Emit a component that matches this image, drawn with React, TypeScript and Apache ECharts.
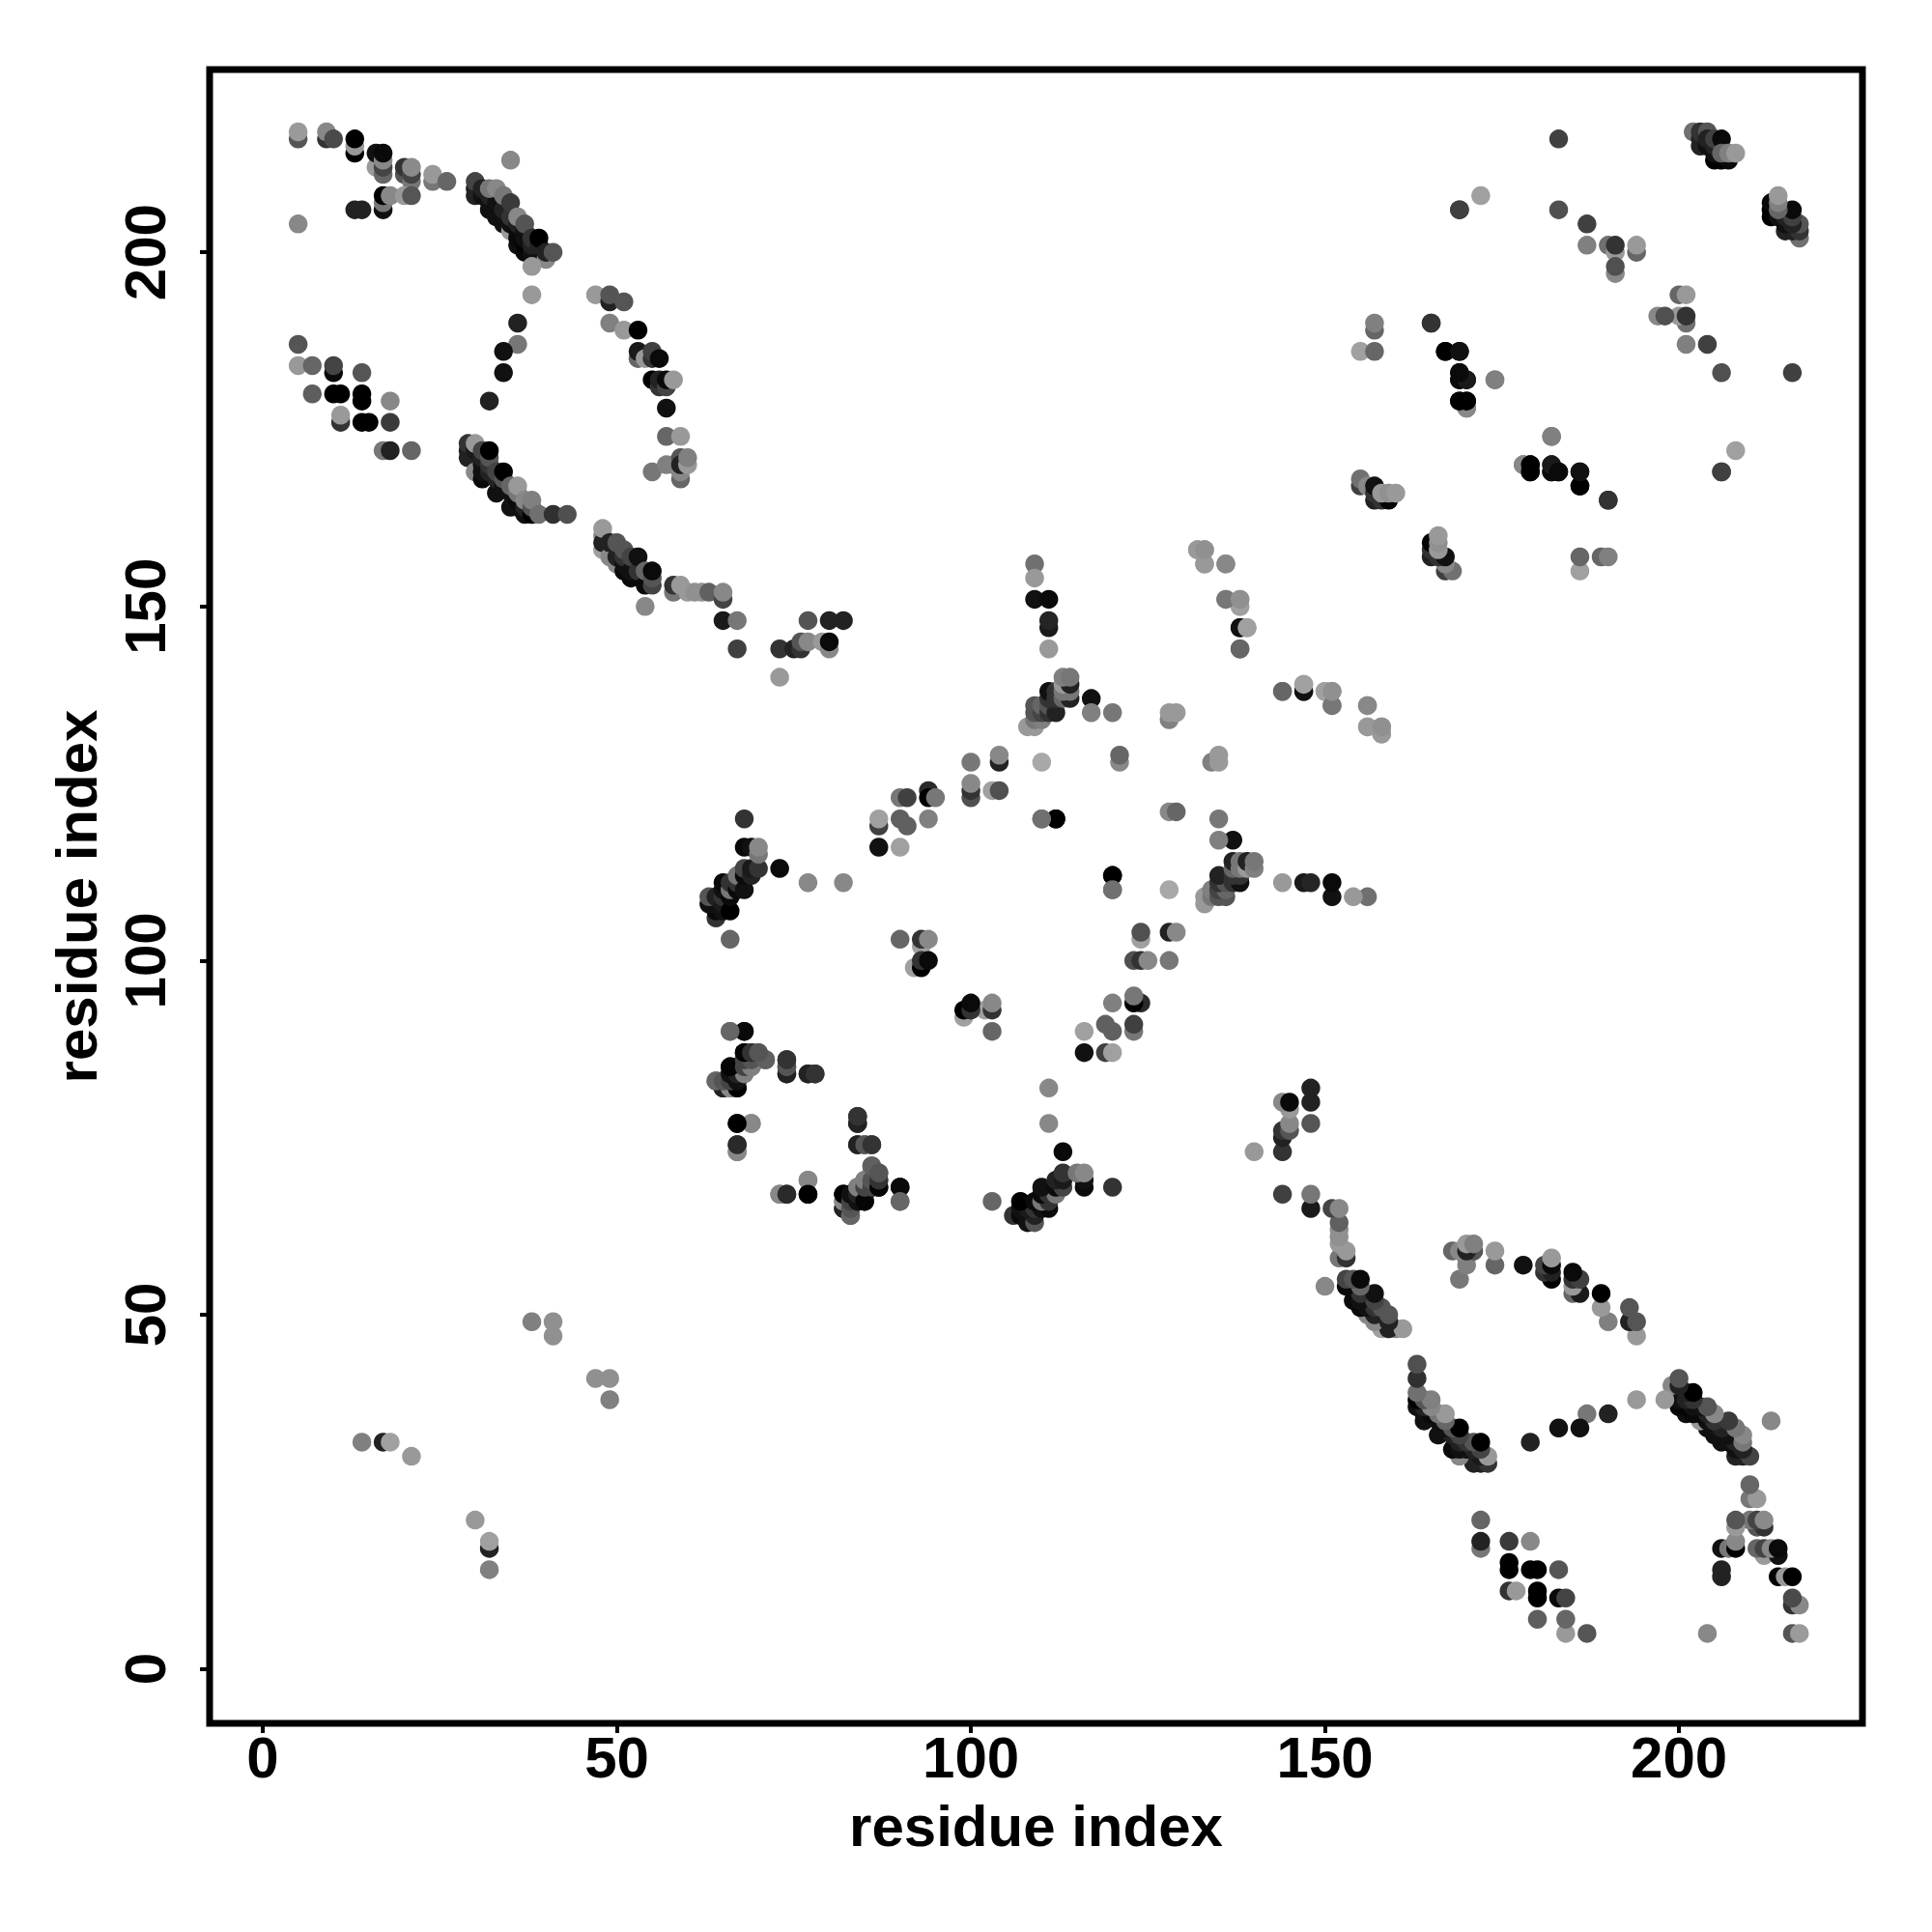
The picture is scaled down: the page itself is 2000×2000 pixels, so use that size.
import React, { useEffect, useRef } from "react";
import * as echarts from "echarts";

type Contact = [number, number, number];

// Contacts as [residue i, residue j, grey level]; the contact map is symmetric.
const tickValues = [0, 50, 100, 150, 200];
const axisTitle = "residue index";

const cornerTop: Contact[] = [
  [5,216,0x55],[5,217,0x9a],[5,204,0x88],[9,216,0x33],[9,217,0x88],[10,216,0x4a],[13,214,0x00],[13,215,0x99],[13,216,0x00],
  [16,212,0x9a],[16,214,0x11],[17,211,0x66],[17,212,0x44],[17,213,0x88],[17,214,0x0a],[20,211,0x55],[20,212,0x33],
  [21,210,0x77],[21,211,0x44],[21,212,0x8a],[24,210,0x77],[24,211,0x99],[26,210,0x66],[17,206,0x11],[17,207,0x77],[17,208,0x00],
  [18,208,0x88],[20,208,0x99],[21,208,0x55],[13,206,0x22],[14,206,0x22],[35,213,0x88],
];
const bandUpper: Contact[] = [
  [30,208,0x22],[30,209,0x22],[30,210,0x44],[31,208,0x11],[31,209,0x22],[32,206,0x11],[32,207,0x11],[32,208,0x22],
  [33,205,0x11],[33,206,0x11],[33,207,0x11],[34,204,0x11],[34,205,0x11],[34,206,0x22],[35,203,0x99],[35,204,0x11],
  [35,205,0x33],[36,201,0x11],[36,202,0x0a],[36,203,0x0a],[36,204,0x22],[37,200,0x0a],[37,201,0x05],[37,202,0x11],
  [37,203,0x11],[38,200,0x11],[38,201,0x22],[32,209,0x77],[33,209,0x88],[34,208,0x77],[35,207,0x3a],[36,205,0x88],
  [37,204,0x55],[38,202,0x33],[39,201,0x22],[39,202,0x00],[40,199,0x88],[38,198,0x99],[38,194,0x99],[40,200,0x22],[41,200,0x55],
];
const loopLeft: Contact[] = [
  [36,190,0x22],[36,187,0x77],[34,186,0x11],[34,183,0x11],[32,179,0x22],
];
const cornerLower: Contact[] = [
  [5,187,0x55],[5,184,0x99],[7,184,0x66],[10,183,0x0a],[10,184,0x44],[14,183,0x55],[7,180,0x5e],[10,180,0x00],[11,180,0x00],
  [14,179,0x00],[14,180,0x00],[18,179,0x88],[11,176,0x33],[11,177,0x99],[14,176,0x00],[15,176,0x00],[18,176,0x3a],
  [17,172,0x77],[18,172,0x22],[21,172,0x66],
];
const bandMiddle: Contact[] = [
  [29,171,0x22],[29,172,0x22],[29,173,0x33],[30,171,0x22],[30,172,0x1a],[30,169,0x88],[30,173,0x99],[31,168,0x0a],[31,169,0x11],
  [31,170,0x11],[31,171,0x22],[31,172,0x44],[32,169,0x22],[32,170,0x33],[32,171,0x55],[32,172,0x00],[33,166,0x11],
  [33,168,0x22],[33,169,0x44],[34,167,0x11],[34,168,0x55],[34,169,0x00],[35,164,0x11],[35,166,0x11],[35,167,0x66],
  [36,164,0x11],[36,165,0x0a],[36,166,0x77],[36,167,0x99],[37,163,0x11],[37,164,0x22],[37,165,0x88],[38,163,0x00],
  [38,164,0x55],[38,165,0x80],[39,163,0x70],[41,163,0x30],[43,163,0x50],
];
const bandLower: Contact[] = [
  [48,158,0xa0],[48,160,0x88],[48,159,0x22],[48,161,0x99],[49,157,0x88],[49,159,0x22],[50,156,0x88],[50,157,0x22],[50,159,0x55],
  [51,155,0x0a],[51,156,0x11],[51,157,0x33],[51,158,0x55],[52,154,0x0a],[52,155,0x11],[52,157,0x44],[53,155,0x33],
  [53,157,0x11],[54,153,0x0a],[54,155,0x66],[55,153,0x44],[55,154,0x55],[55,155,0x0a],[54,150,0x88],
  [58,152,0x77],[58,153,0x33],[59,153,0x99],[60,152,0x99],[61,152,0x90],[62,152,0x90],[63,152,0x60],[65,151,0x44],[65,152,0x88],
  [65,148,0x1a],[67,148,0x77],[67,144,0x40],
];
const arcOuter: Contact[] = [
  [47,194,0x99],[49,193,0x22],[49,194,0x55],[51,193,0x55],[49,190,0x80],[51,189,0x99],[53,189,0x00],[53,185,0x66],[53,186,0x1a],
  [54,185,0x99],[55,185,0x33],[55,186,0x40],[56,185,0x0a],[55,182,0x00],[56,181,0x33],[56,182,0x22],[57,181,0x44],[57,182,0x0a],
  [58,182,0x99],[57,178,0x11],[57,174,0x66],[59,174,0x99],[55,169,0x77],[57,170,0x80],[58,170,0x80],[59,168,0x66],[59,169,0x88],
  [59,171,0x55],[59,170,0x22],[60,170,0x99],[60,171,0x80],
];
const tailUpper: Contact[] = [
  [73,144,0x33],[73,140,0x99],[75,144,0x22],[76,144,0x33],[76,145,0x55],[77,148,0x55],[77,145,0x88],[79,145,0x99],[80,144,0x88],
  [80,145,0x0a],[80,148,0x22],[82,148,0x22],
];
const clusterA: Contact[] = [
  [68,120,0x33],[64,106,0x33],[64,107,0x0a],[64,108,0x11],[63,108,0x11],[63,109,0x55],[64,109,0x22],[65,107,0x11],[65,108,0x1a],
  [65,109,0x33],[65,110,0x11],[65,111,0x0a],[66,107,0x00],[66,109,0x0a],[66,110,0x77],[66,111,0x33],[67,110,0x0a],[67,111,0x33],
  [67,112,0x77],[68,110,0x11],[68,112,0x0a],[68,113,0x44],[69,112,0x22],[69,113,0x1a],[70,113,0x33],[68,116,0x0a],[69,116,0x11],
  [70,115,0x77],[70,116,0x88],[73,113,0x0a],[77,111,0x88],[82,111,0x88],[66,103,0x66],
];
const clusterB: Contact[] = [
  [87,116,0x11],[87,119,0x40],[87,120,0xa0],[90,120,0x60],[91,119,0x60],[94,120,0x80],[90,116,0xa0],[90,123,0x77],[91,123,0x40],
  [94,124,0x2a],[94,123,0x00],[95,123,0x77],[100,123,0x50],[100,124,0x33],[100,125,0x88],[103,124,0xa0],[104,124,0x50],
  [100,128,0x77],[104,128,0x22],[104,129,0x88],[110,120,0x77],[112,120,0x00],
];
const diagonalMiddle: Contact[] = [
  [90,103,0x66],[93,102,0xa0],[93,103,0x33],[94,103,0x88],[92,99,0xa0],[93,99,0x00],[93,100,0x33],[94,100,0x0a],
];
const clusterSpur: Contact[] = [
  [109,156,0x70],[109,154,0x99],[109,151,0x11],[111,151,0x0a],[111,147,0x1a],[111,148,0x25],[111,144,0x99],
  [132,158,0xa0],[133,156,0x99],[133,158,0x99],[136,156,0x99],[136,151,0x88],[138,150,0xa0],[138,151,0x99],[138,147,0x11],
  [139,147,0xa0],[138,144,0x66],[144,138,0x66],[147,138,0x11],[147,139,0xa0],[150,138,0xa0],[151,136,0x77],[151,138,0x90],
  [156,136,0x88],[156,133,0x99],[158,132,0x99],[158,133,0x90],
];
const clusterC: Contact[] = [
  [108,133,0x99],[109,133,0x99],[109,134,0x77],[110,134,0x80],[109,135,0x55],[109,136,0x55],[110,135,0x44],[110,136,0x66],
  [111,135,0x33],[111,136,0x55],[112,135,0x22],[111,137,0x33],[111,138,0x11],[112,137,0x33],[112,138,0x33],[113,137,0x66],
  [114,137,0x22],[113,138,0x77],[114,138,0x77],[113,139,0x99],[114,139,0x22],[113,140,0x80],[114,140,0x77],[117,137,0x11],
  [117,135,0x80],[120,135,0x77],[128,134,0x80],[128,135,0x99],[129,135,0x99],[110,128,0xa8],[121,128,0x88],[121,129,0x66],
  [120,112,0x00],[120,110,0x70],
];
const clusterD: Contact[] = [
  [66,90,0x77],[68,90,0x0a],[64,83,0x77],[65,82,0x1a],[65,83,0x44],[66,82,0x77],[66,83,0x44],[67,82,0x0a],[67,83,0x55],
  [66,84,0x33],[67,84,0x44],[68,84,0x99],[66,85,0x11],[67,85,0x22],[68,85,0x55],[69,85,0x88],[68,86,0x11],[69,86,0x70],
  [68,87,0x0a],[69,87,0x44],[70,86,0x80],[70,87,0x66],[71,86,0x60],[74,84,0x33],[74,85,0x55],[74,86,0x33],[77,84,0x33],[78,84,0x33],
  [67,77,0x00],[69,77,0x80],[67,73,0x77],[67,74,0x2a],[84,77,0x22],[84,78,0x33],[84,74,0x22],[85,74,0x55],[86,74,0x33],
  [77,69,0x88],[77,67,0x00],[73,67,0x88],[74,67,0x2a],
];
const clusterE: Contact[] = [
  [82,65,0x22],[82,66,0x88],[82,67,0x00],[83,64,0x66],[83,65,0x55],[83,66,0x44],[83,67,0x11],[84,66,0x11],[84,67,0x22],[84,68,0x80],
  [85,66,0x05],[85,68,0x44],[85,69,0x80],[86,68,0x44],[86,69,0x55],[87,68,0x05],[87,69,0x33],[86,71,0x60],[87,70,0x55],
  [90,68,0x0a],[90,66,0x66],
];
const clusterTopRight: Contact[] = [
  [183,216,0x40],[183,206,0x50],[187,204,0x40],[187,201,0x80],[190,201,0x70],[191,200,0x99],[191,201,0x33],[191,197,0x88],[191,198,0x50],
  [194,200,0x66],[194,201,0x99],[169,206,0x40],[172,208,0xa0],
  [202,217,0x70],[203,215,0x22],[203,216,0x22],[203,217,0x33],[204,217,0x55],[204,215,0x11],[204,216,0x22],[205,213,0x00],[206,213,0x00],[207,213,0x0a],
  [205,214,0x11],[205,215,0x22],[205,216,0x40],[206,216,0x0a],[206,214,0x66],[207,214,0x80],[208,214,0x99],
  [157,189,0x66],[157,190,0x80],[155,186,0xa0],[157,186,0x66],[165,190,0x38],[167,186,0x05],[169,186,0x1a],[169,182,0x05],[169,183,0x05],
  [170,182,0x1a],[174,182,0x80],[170,178,0x77],[169,179,0x05],[170,179,0x00],
  [155,167,0x40],[155,168,0x70],[156,167,0x88],[157,165,0x22],[158,165,0x33],[159,165,0x05],[157,166,0x33],[157,167,0x11],[158,166,0x99],[159,166,0x90],[160,166,0x99],
  [186,167,0x00],[186,169,0x11],[190,165,0x33],
];
const scatteredLow: Contact[] = [
  [14,32,0x80],[17,32,0x22],[18,32,0xa0],[21,30,0x99],[38,49,0x80],[41,49,0x90],[41,47,0x90],
];
const clusterMid: Contact[] = [
  [178,170,0x88],[179,169,0x00],[179,170,0x00],[182,169,0x0a],[182,170,0x1a],[183,169,0x0a],[182,174,0x80],[206,169,0x40],
];

const contacts: Contact[] = [
  ...cornerTop, ...bandUpper, ...loopLeft, ...cornerLower, ...bandMiddle, ...bandLower, ...arcOuter, ...tailUpper,
  ...clusterA, ...clusterB, ...diagonalMiddle, ...clusterSpur, ...clusterC, ...clusterD, ...clusterE,
  ...clusterTopRight, ...scatteredLow, ...clusterMid,
];

const mirrored = contacts.flatMap(([i, j, g]) => [[i, j, g], [j, i, g]]);

export default function App() {
  const ref = useRef<HTMLDivElement>(null);
  useEffect(() => {
    const chart = echarts.init(ref.current!, undefined, { renderer: "svg" });
    const font = { fontFamily: "Liberation Sans", fontWeight: "bold" as const, fontSize: 60, color: "#000" };
    const tick = { show: true, length: 10, inside: false, lineStyle: { color: "#000", width: 4 }, customValues: tickValues };
    chart.setOption({
      animation: false,
      backgroundColor: "#fff",
      grid: { left: 217, right: 72, top: 72, bottom: 216, show: true, borderColor: "#000", borderWidth: 7, backgroundColor: "#fff" },
      xAxis: {
        type: "value", min: -7.5, max: 225.9, splitLine: { show: false },
        axisLine: { show: false, onZero: false }, axisTick: tick,
        axisLabel: { ...font, margin: 5, customValues: tickValues },
        name: axisTitle, nameLocation: "middle", nameGap: 76, nameTextStyle: font,
      },
      yAxis: {
        type: "value", min: -7.7, max: 225.8, splitLine: { show: false },
        axisLine: { show: false, onZero: false }, axisTick: tick,
        axisLabel: { ...font, margin: 37, rotate: 90, customValues: tickValues },
        name: axisTitle, nameLocation: "middle", nameGap: 108, nameRotate: 90, nameTextStyle: font,
      },
      series: [{
        type: "scatter",
        symbol: "circle",
        symbolSize: 19.5,
        clip: false,
        itemStyle: { opacity: 1 },
        data: mirrored.map(([i, j, g]) => ({
          value: [i, j],
          itemStyle: { color: `rgb(${g},${g},${g})`, opacity: 1 },
        })),
      }],
    });
    return () => chart.dispose();
  }, []);
  return <div ref={ref} style={{ position: "absolute", left: 0, top: 0, width: 2000, height: 2000 }} />;
}
